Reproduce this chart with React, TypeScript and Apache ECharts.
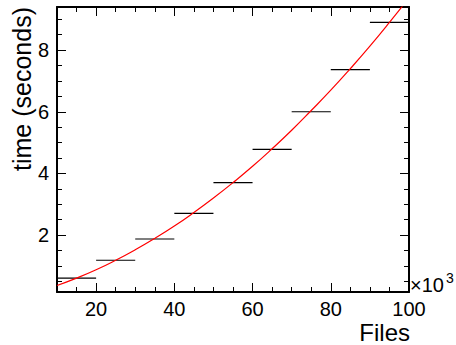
import React, { useEffect, useRef } from "react";
import * as echarts from "echarts";

const binEdges = [10, 20, 30, 40, 50, 60, 70, 80, 90, 100];
const binValues = [0.6, 1.18, 1.87, 2.7, 3.7, 4.78, 6.0, 7.37, 8.9];

const fitX = [10, 15, 20, 25, 30, 35, 40, 45, 50, 55, 60, 65, 70, 75, 80, 85, 90, 95, 100];
const fitY = [0.36, 0.6, 0.87, 1.18, 1.52, 1.89, 2.29, 2.73, 3.2, 3.7, 4.23, 4.8, 5.4, 6.04, 6.7, 7.4, 8.13, 8.9, 9.7];

const xMajor = [20, 40, 60, 80, 100];
const xMinor = [15, 20, 25, 30, 35, 40, 45, 50, 55, 60, 65, 70, 75, 80, 85, 90, 95, 100];
const yMajor = [2, 4, 6, 8];
const yMinor = [0.5, 1, 1.5, 2, 2.5, 3, 3.5, 4, 4.5, 5, 5.5, 6, 6.5, 7, 7.5, 8, 8.5, 9];

const X_MIN = 10;
const X_MAX = 100;
const Y_MIN = 0.15;
const Y_MAX = 9.4;

const FONT = "Liberation Sans, Arial, sans-serif";

export default function App() {
  const ref = useRef<HTMLDivElement>(null);

  useEffect(() => {
    if (!ref.current) return;
    const chart = echarts.init(ref.current, null, { renderer: "svg" });

    const axisLine = { show: true, lineStyle: { color: "#000", width: 2 } };
    const mkX = (pos: string, major: boolean, labels: boolean, line: boolean) => ({
      type: "value",
      position: pos,
      min: X_MIN,
      max: X_MAX,
      axisLine: line ? axisLine : { show: false },
      axisTick: {
        show: true,
        inside: true,
        length: major ? 9 : 5,
        customValues: major ? xMajor : xMinor,
        lineStyle: { color: "#000", width: 1 },
      },
      axisLabel: labels
        ? { show: true, customValues: xMajor, color: "#000", fontSize: 20, fontFamily: FONT, margin: 7 }
        : { show: false },
      splitLine: { show: false },
    });
    const mkY = (pos: string, major: boolean, labels: boolean, line: boolean) => ({
      type: "value",
      position: pos,
      min: Y_MIN,
      max: Y_MAX,
      axisLine: line ? axisLine : { show: false },
      axisTick: {
        show: true,
        inside: true,
        length: major ? 9 : 5,
        customValues: major ? yMajor : yMinor,
        lineStyle: { color: "#000", width: 1 },
      },
      axisLabel: labels
        ? { show: true, customValues: yMajor, color: "#000", fontSize: 20, fontFamily: FONT, margin: 8 }
        : { show: false },
      splitLine: { show: false },
    });

    const histData = binValues.map((v, i) => [binEdges[i], binEdges[i + 1], v]);
    const fitData = fitX.map((x, i) => [x, fitY[i]]);

    chart.setOption({
      animation: false,
      backgroundColor: "#fff",
      grid: {
        left: 57,
        right: 47,
        top: 7,
        bottom: 53,
        containLabel: false,
        outerBoundsMode: "none",
      },
      xAxis: [
        mkX("bottom", true, true, true),
        mkX("bottom", false, false, false),
        mkX("top", true, false, true),
        mkX("top", false, false, false),
      ],
      yAxis: [
        mkY("left", true, true, true),
        mkY("left", false, false, false),
        mkY("right", true, false, true),
        mkY("right", false, false, false),
      ],
      series: [
        {
          type: "custom",
          xAxisIndex: 0,
          yAxisIndex: 0,
          data: histData,
          renderItem: (params: any, api: any) => {
            const p0 = api.coord([api.value(0), api.value(2)]);
            const p1 = api.coord([api.value(1), api.value(2)]);
            return {
              type: "line",
              shape: { x1: p0[0], y1: p0[1], x2: p1[0], y2: p1[1] },
              style: { stroke: "#000", lineWidth: 1.2 },
            };
          },
          silent: true,
        },
        {
          type: "line",
          xAxisIndex: 0,
          yAxisIndex: 0,
          data: fitData,
          smooth: true,
          symbol: "none",
          clip: true,
          lineStyle: { color: "#ff0000", width: 1.2 },
          silent: true,
        },
      ],
      graphic: [
        {
          type: "text",
          x: 22,
          y: 7,
          rotation: Math.PI / 2,
          style: {
            text: "time (seconds)",
            fontSize: 25,
            fontFamily: FONT,
            fill: "#000",
            align: "right",
            verticalAlign: "middle",
          },
        },
        {
          type: "text",
          x: 410,
          y: 332,
          style: {
            text: "Files",
            fontSize: 24,
            fontFamily: FONT,
            fill: "#000",
            align: "right",
            verticalAlign: "middle",
          },
        },
        {
          type: "text",
          x: 410,
          y: 285,
          style: {
            text: "×10",
            fontSize: 20,
            fontFamily: FONT,
            fill: "#000",
            align: "left",
            verticalAlign: "middle",
          },
        },
        {
          type: "text",
          x: 446,
          y: 278,
          style: {
            text: "3",
            fontSize: 14,
            fontFamily: FONT,
            fill: "#000",
            align: "left",
            verticalAlign: "middle",
          },
        },
      ],
    });

    return () => chart.dispose();
  }, []);

  return <div ref={ref} style={{ width: 456, height: 345, position: "absolute", left: 0, top: 0 }} />;
}
